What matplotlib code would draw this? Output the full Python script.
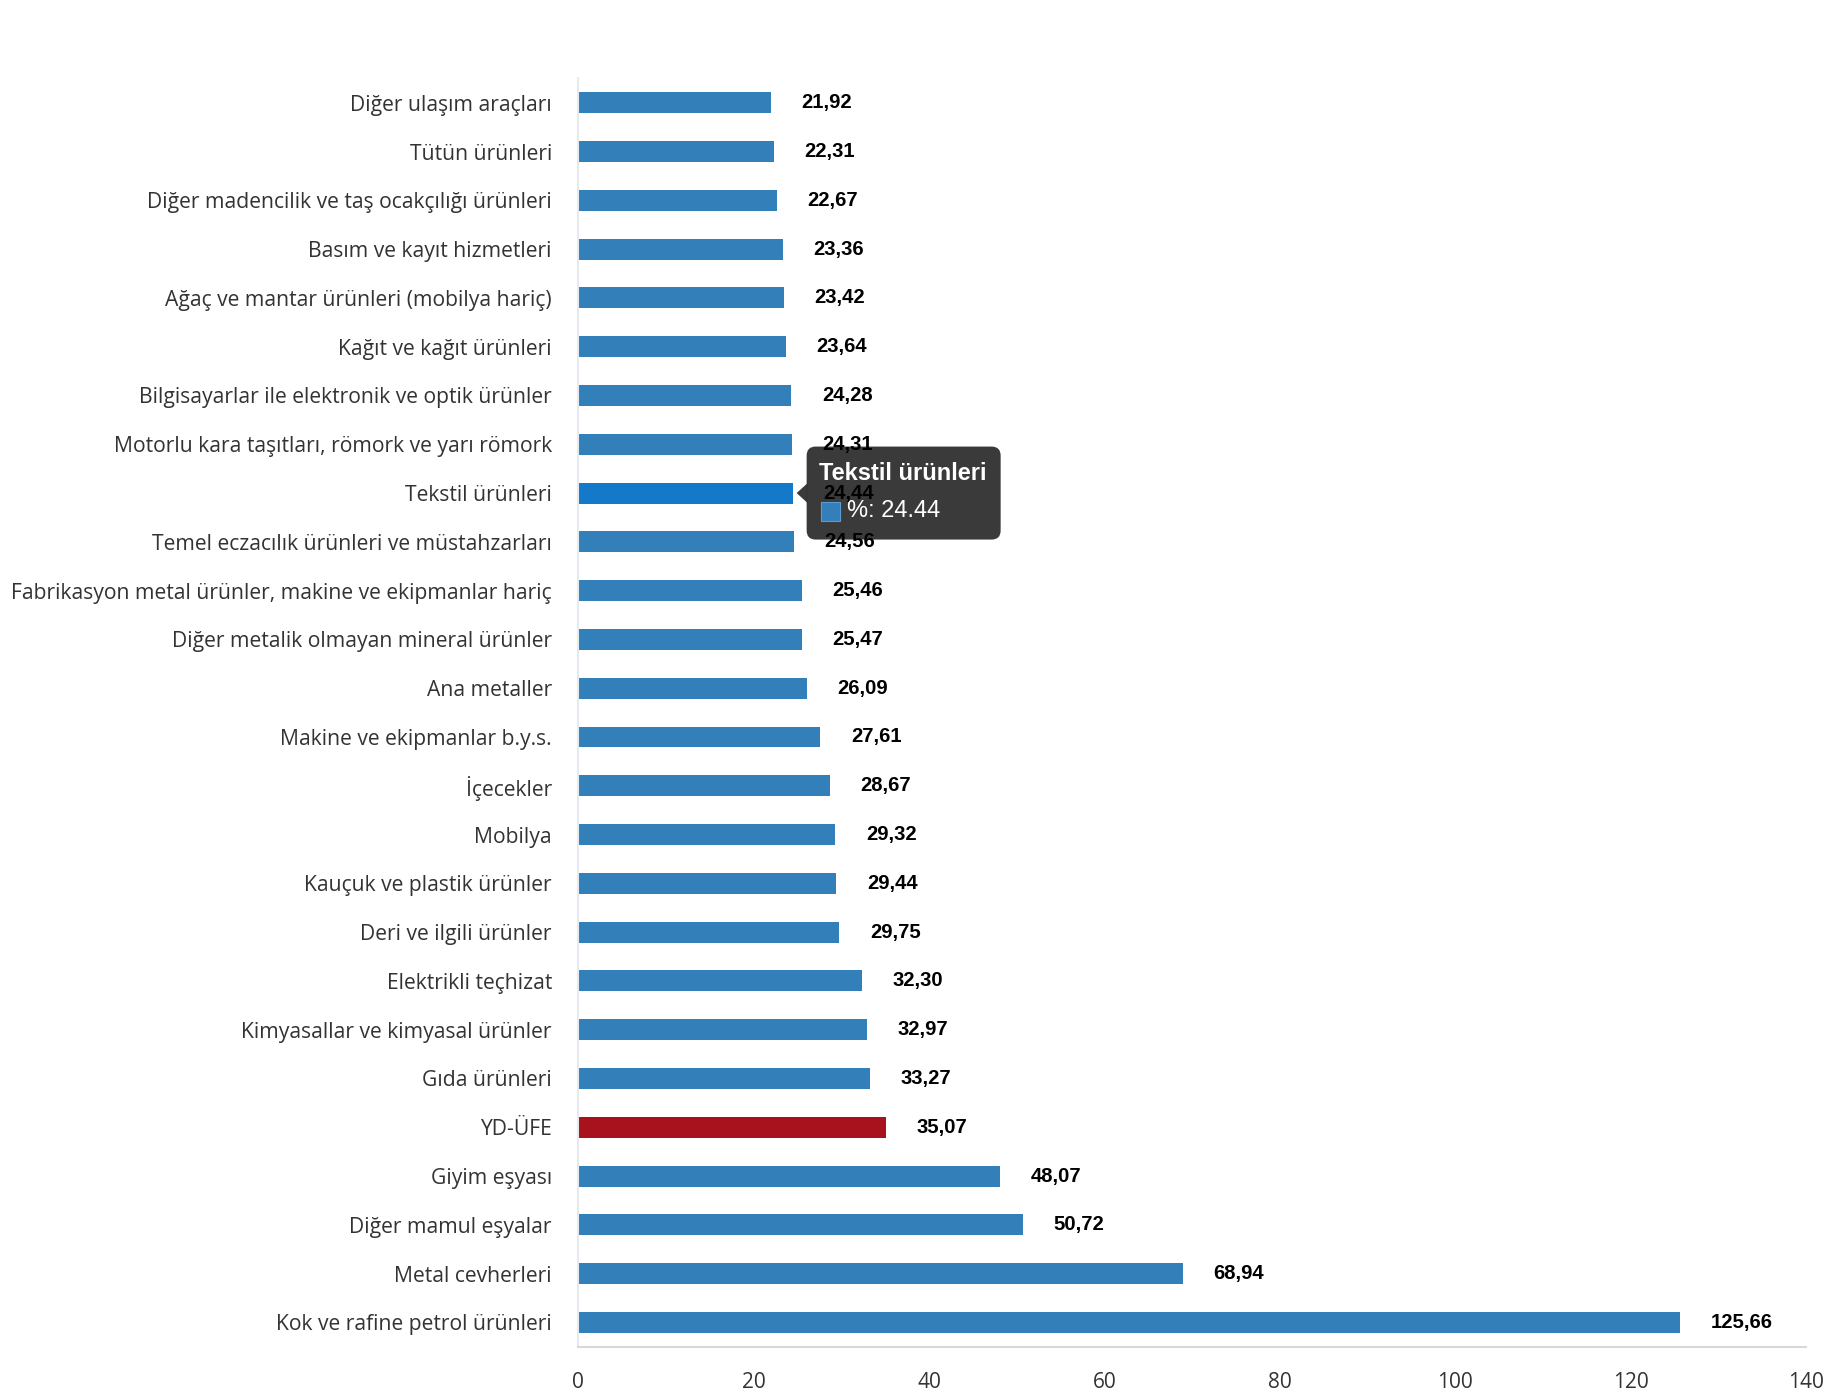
import matplotlib
matplotlib.use("Agg")
import matplotlib.pyplot as plt
from matplotlib.patches import FancyBboxPatch, Polygon, Rectangle
from matplotlib.transforms import IdentityTransform

categories = [
    "Diğer ulaşım araçları",
    "Tütün ürünleri",
    "Diğer madencilik ve taş ocakçılığı ürünleri",
    "Basım ve kayıt hizmetleri",
    "Ağaç ve mantar ürünleri (mobilya hariç)",
    "Kağıt ve kağıt ürünleri",
    "Bilgisayarlar ile elektronik ve optik ürünler",
    "Motorlu kara taşıtları, römork ve yarı römork",
    "Tekstil ürünleri",
    "Temel eczacılık ürünleri ve müstahzarları",
    "Fabrikasyon metal ürünler, makine ve ekipmanlar hariç",
    "Diğer metalik olmayan mineral ürünler",
    "Ana metaller",
    "Makine ve ekipmanlar b.y.s.",
    "İçecekler",
    "Mobilya",
    "Kauçuk ve plastik ürünler",
    "Deri ve ilgili ürünler",
    "Elektrikli teçhizat",
    "Kimyasallar ve kimyasal ürünler",
    "Gıda ürünleri",
    "YD-ÜFE",
    "Giyim eşyası",
    "Diğer mamul eşyalar",
    "Metal cevherleri",
    "Kok ve rafine petrol ürünleri",
]
values = [21.92, 22.31, 22.67, 23.36, 23.42, 23.64, 24.28, 24.31, 24.44, 24.56,
          25.46, 25.47, 26.09, 27.61, 28.67, 29.32, 29.44, 29.75, 32.30, 32.97,
          33.27, 35.07, 48.07, 50.72, 68.94, 125.66]
x_ticks = [0, 20, 40, 60, 80, 100, 120, 140]

highlight = "YD-ÜFE"
hovered = "Tekstil ürünleri"

BLUE = "#337fba"
HOVER = "#1479c9"
RED = "#a8121c"

colors = []
for c in categories:
    if c == highlight:
        colors.append(RED)
    elif c == hovered:
        colors.append(HOVER)
    else:
        colors.append(BLUE)

fig = plt.figure(figsize=(18.3, 14), dpi=100)
ax = fig.add_axes([0.316, 0.038, 0.671, 0.906])

ypos = list(range(len(categories)))
ax.barh(ypos, values, height=0.43, color=colors, edgecolor="none")
ax.set_ylim(len(categories) - 0.5, -0.5)
ax.set_xlim(0, 140)
ax.set_xticks(x_ticks)
ax.set_xticklabels([str(t) for t in x_ticks], fontsize=15, color="#333333",
                   family=["Open Sans", "DejaVu Sans"])
ax.set_yticks(ypos)
ax.set_yticklabels(categories, fontsize=15.2, color="#333333",
                   family=["Open Sans", "DejaVu Sans"])
ax.tick_params(axis="y", length=0, pad=19)
ax.tick_params(axis="x", length=0, pad=18)

for s in ("top", "right"):
    ax.spines[s].set_visible(False)
ax.spines["left"].set_color("#e6e9ef")
ax.spines["left"].set_linewidth(1.5)
ax.spines["bottom"].set_color("#d8d8d8")
ax.spines["bottom"].set_linewidth(1.5)

for y, v in zip(ypos, values):
    ax.annotate(f"{v:.2f}".replace(".", ","), xy=(v, y), xytext=(22, 0),
                textcoords="offset points", va="center", ha="left",
                fontsize=14.6, fontweight="bold", color="black",
                family="Liberation Sans", zorder=8)

# tooltip for the hovered bar, placed in pixels from the bar end
fig.canvas.draw()
hi = categories.index(hovered)
bx, by = ax.transData.transform((values[hi], hi))
box_w, box_h = 194, 93
left = bx + 14
bottom = by - box_h / 2
px = IdentityTransform()
tip = Polygon([[bx + 4, by], [left + 1, by + 10], [left + 1, by - 10]],
              closed=True, transform=px, facecolor="#333333", alpha=0.97,
              edgecolor="none", zorder=5, clip_on=False)
box = FancyBboxPatch((left, bottom), box_w, box_h,
                     boxstyle="round,pad=0,rounding_size=9", transform=px,
                     facecolor="#333333", alpha=0.97, edgecolor="none",
                     zorder=5, clip_on=False)
ax.add_artist(box)
ax.add_artist(tip)
ax.text(left + 12, by + 20, hovered, transform=px, fontsize=17,
        fontweight="bold", color="white", family="Liberation Sans",
        va="center", ha="left", zorder=6, clip_on=False)
sq = Rectangle((left + 14, by - 28), 19, 19, transform=px,
               facecolor=BLUE, edgecolor="#5d9bd0", linewidth=0.8,
               zorder=6, clip_on=False)
ax.add_artist(sq)
ax.text(left + 40, by - 18, f"%: {values[hi]}", transform=px, fontsize=17,
        color="white", family="Liberation Sans", va="center", ha="left",
        zorder=6, clip_on=False)

fig.savefig("out.png", dpi=100, facecolor="white")
